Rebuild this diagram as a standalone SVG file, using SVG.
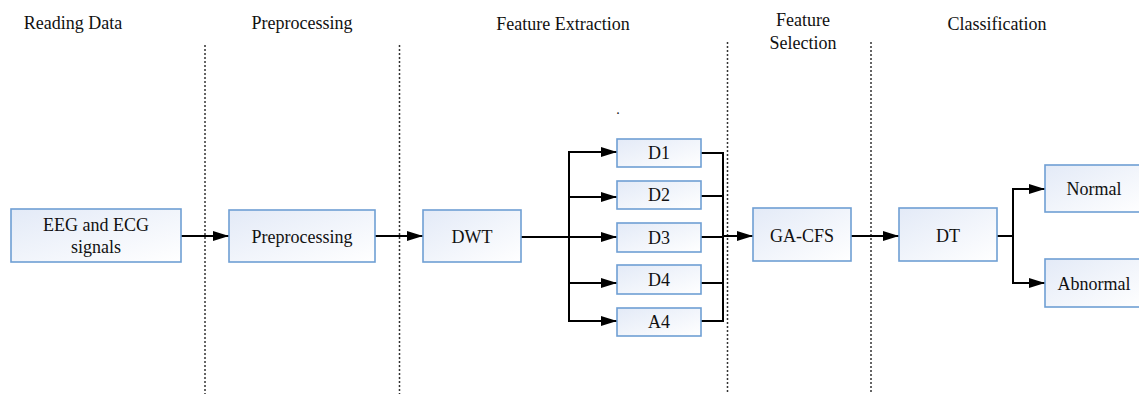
<svg xmlns="http://www.w3.org/2000/svg" width="1139" height="394" viewBox="0 0 1139 394" font-family="'Liberation Serif', 'Times New Roman', Times, 'DejaVu Serif', serif">
<style>
.box{fill:url(#g);stroke:#6f9fd4;stroke-width:1.6}
text{font-family:'Liberation Serif','Times New Roman',Times,'DejaVu Serif',serif;font-size:18px;fill:#111;text-anchor:middle}
.div{stroke:#333;stroke-width:1.5;stroke-dasharray:2,2;fill:none}
.c{stroke:#000;stroke-width:2;fill:none}
</style>
<defs>
<linearGradient id="g" x1="0" y1="0" x2="1" y2="1">
<stop offset="0" stop-color="#e3eaf7"/>
<stop offset="1" stop-color="#ffffff"/>
</linearGradient>
<marker id="a" markerUnits="userSpaceOnUse" markerWidth="16" markerHeight="12" refX="16" refY="5" orient="auto">
<path d="M0,0 L16,5 L0,10 z" fill="#000"/>
</marker>
</defs>
<rect width="1139" height="394" fill="#fff"/>
<g id="headers">
<text x="73" y="29">Reading Data</text>
<text x="302" y="29">Preprocessing</text>
<text x="563" y="30">Feature Extraction</text>
<text x="803" y="26">Feature</text>
<text x="803" y="49">Selection</text>
<text x="997" y="30">Classification</text>
<text x="618" y="114" style="font-size:14px">.</text>
</g>
<g id="dividers">
<line class="div" x1="205" y1="45" x2="205" y2="394"/>
<line class="div" x1="399.5" y1="45" x2="399.5" y2="394"/>
<line class="div" x1="727.5" y1="42" x2="727.5" y2="394"/>
<line class="div" x1="871" y1="42" x2="871" y2="394"/>
</g>
<g id="connectors">
<line class="c" x1="181" y1="236" x2="229" y2="236" marker-end="url(#a)"/>
<line class="c" x1="375" y1="236" x2="423" y2="236" marker-end="url(#a)"/>
<line class="c" x1="521" y1="237" x2="569" y2="237"/>
<line class="c" x1="569" y1="151" x2="569" y2="322"/>
<line class="c" x1="568" y1="152" x2="617" y2="152" marker-end="url(#a)"/>
<line class="c" x1="568" y1="197" x2="617" y2="197" marker-end="url(#a)"/>
<line class="c" x1="568" y1="237" x2="617" y2="237" marker-end="url(#a)"/>
<line class="c" x1="568" y1="283" x2="617" y2="283" marker-end="url(#a)"/>
<line class="c" x1="568" y1="321" x2="617" y2="321" marker-end="url(#a)"/>
<line class="c" x1="701" y1="153" x2="724" y2="153"/>
<line class="c" x1="701" y1="196" x2="724" y2="196"/>
<line class="c" x1="701" y1="237" x2="724" y2="237"/>
<line class="c" x1="701" y1="283" x2="724" y2="283"/>
<line class="c" x1="701" y1="321" x2="724" y2="321"/>
<line class="c" x1="723" y1="152" x2="723" y2="322"/>
<line class="c" x1="723" y1="236" x2="753" y2="236" marker-end="url(#a)"/>
<line class="c" x1="851" y1="236" x2="899" y2="236" marker-end="url(#a)"/>
<line class="c" x1="997" y1="236" x2="1013" y2="236"/>
<line class="c" x1="1013" y1="188" x2="1013" y2="284"/>
<line class="c" x1="1012" y1="189" x2="1045" y2="189" marker-end="url(#a)"/>
<line class="c" x1="1012" y1="283" x2="1045" y2="283" marker-end="url(#a)"/>
</g>
<g id="n-eeg"><rect class="box" x="11" y="209" width="170" height="53"/><text x="96" y="231">EEG and ECG</text><text x="96" y="253">signals</text></g>
<g id="n-pre"><rect class="box" x="229" y="210" width="146" height="52"/><text x="302" y="243">Preprocessing</text></g>
<g id="n-dwt"><rect class="box" x="423" y="210" width="98" height="52"/><text x="472" y="243">DWT</text></g>
<g id="n-d1"><rect class="box" x="617" y="139" width="84" height="28"/><text x="659" y="159">D1</text></g>
<g id="n-d2"><rect class="box" x="617" y="181" width="84" height="28"/><text x="659" y="201">D2</text></g>
<g id="n-d3"><rect class="box" x="617" y="223" width="84" height="29"/><text x="659" y="244">D3</text></g>
<g id="n-d4"><rect class="box" x="617" y="265" width="84" height="29"/><text x="659" y="286">D4</text></g>
<g id="n-a4"><rect class="box" x="617" y="308" width="84" height="28"/><text x="659" y="328">A4</text></g>
<g id="n-gacfs"><rect class="box" x="753" y="208" width="98" height="53"/><text x="802" y="242">GA-CFS</text></g>
<g id="n-dt"><rect class="box" x="899" y="208" width="98" height="53"/><text x="948" y="242">DT</text></g>
<g id="n-normal"><rect class="box" x="1045" y="165" width="98" height="47"/><text x="1094" y="195">Normal</text></g>
<g id="n-abnormal"><rect class="box" x="1045" y="259" width="98" height="48"/><text x="1094" y="290">Abnormal</text></g>
</svg>
